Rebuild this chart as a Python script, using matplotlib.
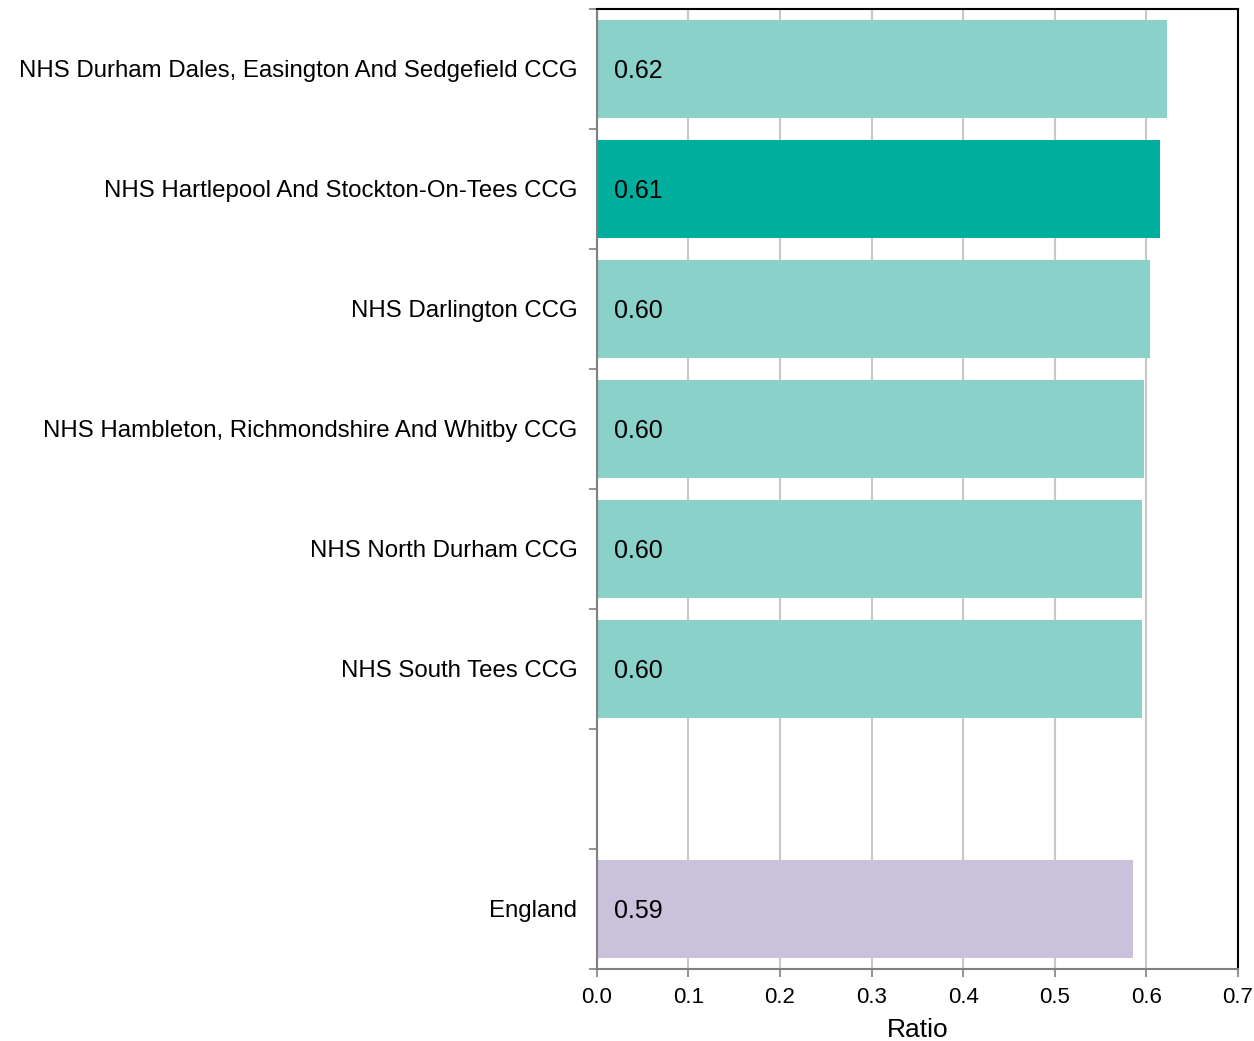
import matplotlib
matplotlib.use("Agg")
from matplotlib import pyplot as plt
import numpy as np

plt.rcParams['font.family'] = ['Liberation Sans', 'DejaVu Sans']

labels = ["NHS Durham Dales, Easington And Sedgefield CCG",
          "NHS Hartlepool And Stockton-On-Tees CCG",
          "NHS Darlington CCG",
          "NHS Hambleton, Richmondshire And Whitby CCG",
          "NHS North Durham CCG",
          "NHS South Tees CCG",
          "",
          "England"]
values = [0.623, 0.615, 0.604, 0.598, 0.596, 0.595, np.nan, 0.586]
value_text = ["0.62", "0.61", "0.60", "0.60", "0.60", "0.60", "", "0.59"]
colors = ["#8ad1ca", "#00ae9e", "#8ad1ca", "#8ad1ca", "#8ad1ca", "#8ad1ca", "#ffffff", "#cac1da"]

fig = plt.figure(figsize=(12.54, 10.41), dpi=100)
ax = fig.add_axes([0.476, 0.0692, 0.511, 0.9222])

pos = np.arange(len(labels))
ax.barh(pos, np.nan_to_num(values), height=0.81, color=colors, zorder=2)
for p, v, t in zip(pos, values, value_text):
    if t:
        ax.annotate(t, (0, p), xytext=(12, -1.5), textcoords="offset points",
                    va="center", ha="left", fontsize=18, color="black", zorder=3)

ax.set_ylim(len(labels) - 0.5, -0.5)
ax.set_xlim(0, 0.7)
ax.set_xticks(np.arange(0, 0.71, 0.1))
ax.set_xticklabels([f"{x:.1f}" for x in np.arange(0, 0.71, 0.1)], fontsize=16)
ax.set_yticks(pos)
ax.set_yticklabels(labels, fontsize=17.3)
ax.tick_params(axis="y", which="major", length=0, pad=14)
ax.set_yticks(np.arange(-0.5, len(labels)), minor=True)
ax.tick_params(axis="y", which="minor", length=6, color="#808080", width=1.2)
ax.tick_params(axis="x", length=6, color="#808080", width=1.2, pad=7)
ax.grid(axis="x", color="#c8c8c8", linewidth=1.5, zorder=0)
ax.set_axisbelow(True)
ax.set_xlabel("Ratio", fontsize=19, labelpad=7)

for s in ["left", "bottom"]:
    ax.spines[s].set_color("#808080")
    ax.spines[s].set_linewidth(1.5)
for s in ["top", "right"]:
    ax.spines[s].set_color("black")
    ax.spines[s].set_linewidth(1.5)

fig.savefig("out.png", dpi=100)
